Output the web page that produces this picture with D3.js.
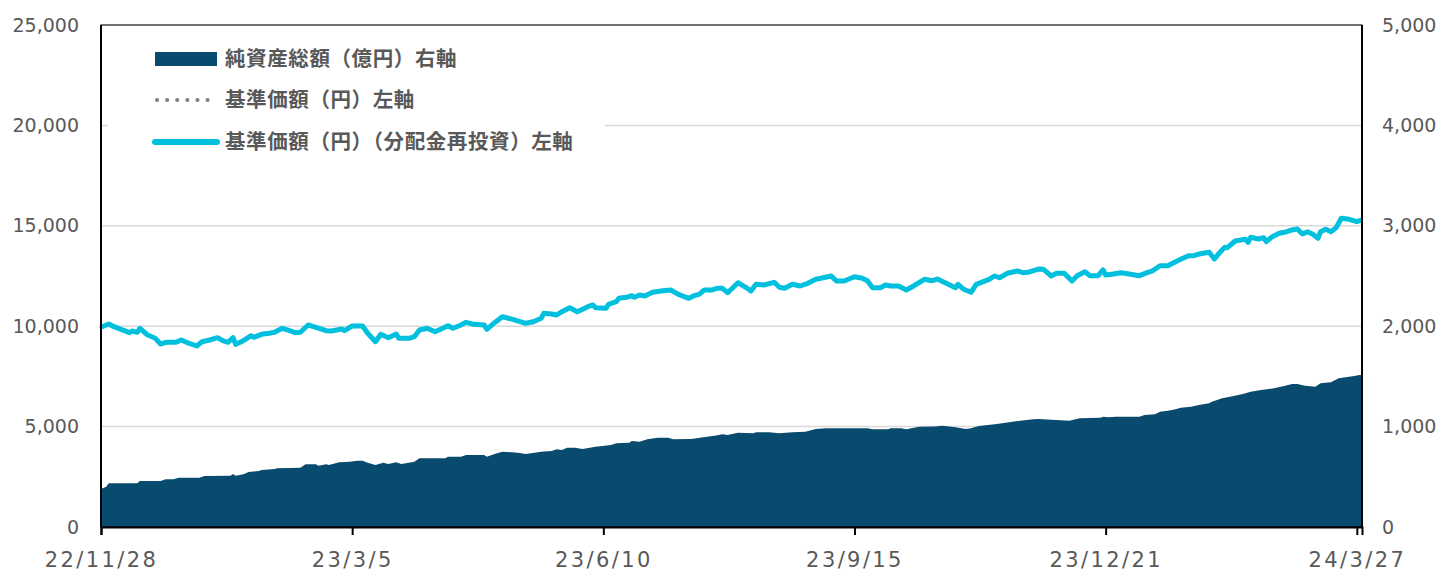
<!DOCTYPE html>
<html lang="ja">
<head>
<meta charset="UTF-8">
<title>純資産総額と基準価額の推移</title>
<script src="https://d3js.org/d3.v7.min.js"></script>
<style>
  body { margin: 0; background: #fff; }
  .tick-label { font-family: "DejaVu Sans", Verdana, sans-serif; font-size: 19px; fill: #595959; }
  .x-label { font-size: 21px; letter-spacing: 2.4px; }
  .legend-label { font-family: "Noto Sans CJK JP", sans-serif; font-size: 20.5px; letter-spacing: 0.6px; font-weight: bold; fill: #595959; }
</style>
</head>
<body>
<div id="chart"></div>
<script>
// x axis tick labels
const xTicks = ["22/11/28", "23/3/5", "23/6/10", "23/9/15", "23/12/21", "24/3/27"];
const leftTicks = [0, 5000, 10000, 15000, 20000, 25000];
const rightTicks = [0, 1000, 2000, 3000, 4000, 5000];

// 基準価額（円）（分配金再投資）
const navDates = [
  "2022-11-28","2022-12-01","2022-12-03","2022-12-09","2022-12-10","2022-12-12","2022-12-13","2022-12-16","2022-12-19","2022-12-21",
  "2022-12-23","2022-12-27","2022-12-29","2022-12-31","2023-01-04","2023-01-06","2023-01-09","2023-01-12","2023-01-14","2023-01-16",
  "2023-01-18","2023-01-19","2023-01-22","2023-01-25","2023-01-26","2023-01-29","2023-02-01","2023-02-03","2023-02-06","2023-02-08",
  "2023-02-11","2023-02-13","2023-02-16","2023-02-19","2023-02-23","2023-02-25","2023-03-01","2023-03-02","2023-03-05","2023-03-09",
  "2023-03-11","2023-03-14","2023-03-16","2023-03-19","2023-03-22","2023-03-23","2023-03-27","2023-03-29","2023-03-31","2023-04-03",
  "2023-04-06","2023-04-09","2023-04-11","2023-04-13","2023-04-16","2023-04-18","2023-04-21","2023-04-25","2023-04-26","2023-04-29",
  "2023-05-02","2023-05-06","2023-05-11","2023-05-14","2023-05-17","2023-05-18","2023-05-21","2023-05-23","2023-05-25","2023-05-28",
  "2023-05-31","2023-06-04","2023-06-06","2023-06-07","2023-06-11","2023-06-12","2023-06-15","2023-06-16","2023-06-19","2023-06-21",
  "2023-06-22","2023-06-24","2023-06-26","2023-06-29","2023-07-03","2023-07-06","2023-07-09","2023-07-13","2023-07-15","2023-07-17",
  "2023-07-19","2023-07-22","2023-07-24","2023-07-26","2023-07-28","2023-08-01","2023-08-04","2023-08-06","2023-08-08","2023-08-11",
  "2023-08-15","2023-08-17","2023-08-19","2023-08-22","2023-08-25","2023-08-28","2023-08-31","2023-09-02","2023-09-06","2023-09-08",
  "2023-09-11","2023-09-15","2023-09-18","2023-09-20","2023-09-22","2023-09-25","2023-09-27","2023-09-29","2023-10-02","2023-10-05",
  "2023-10-08","2023-10-12","2023-10-15","2023-10-17","2023-10-20","2023-10-24","2023-10-25","2023-10-27","2023-10-30","2023-11-01",
  "2023-11-06","2023-11-08","2023-11-10","2023-11-13","2023-11-17","2023-11-19","2023-11-21","2023-11-25","2023-11-27","2023-11-30",
  "2023-12-02","2023-12-05","2023-12-08","2023-12-10","2023-12-13","2023-12-15","2023-12-18","2023-12-20","2023-12-21","2023-12-24",
  "2023-12-27","2023-12-30","2024-01-03","2024-01-06","2024-01-08","2024-01-11","2024-01-14","2024-01-17","2024-01-19","2024-01-22",
  "2024-01-24","2024-01-26","2024-01-30","2024-02-01","2024-02-03","2024-02-05","2024-02-06","2024-02-09","2024-02-13","2024-02-14",
  "2024-02-15","2024-02-18","2024-02-20","2024-02-21","2024-02-23","2024-02-26","2024-02-29","2024-03-02","2024-03-04","2024-03-06",
  "2024-03-08","2024-03-10","2024-03-12","2024-03-13","2024-03-15","2024-03-17","2024-03-19","2024-03-21","2024-03-24","2024-03-27",
  "2024-03-29"
];
const navValues = [
  9950,10110,9975,9676,9761,9696,9895,9562,9397,9113,
  9198,9198,9313,9198,9014,9228,9313,9427,9278,9198,
  9427,9098,9278,9527,9447,9596,9646,9696,9895,9811,
  9676,9696,10060,9945,9776,9761,9860,9776,10010,10010,
  9646,9228,9596,9427,9611,9397,9397,9477,9811,9895,
  9726,9895,10025,9895,10060,10194,10094,10060,9845,10174,
  10473,10343,10144,10224,10393,10642,10607,10558,10722,10921,
  10722,10971,11056,10921,10891,11090,11220,11389,11439,11519,
  11439,11554,11504,11688,11768,11803,11588,11389,11519,11588,
  11803,11803,11887,11887,11668,12166,11937,11753,12086,12052,
  12186,11937,11887,12086,12002,12136,12335,12385,12500,12251,
  12251,12465,12385,12266,11917,11917,12052,12002,12002,11803,
  12017,12335,12266,12350,12166,11917,12086,11852,11688,12086,
  12335,12500,12415,12634,12749,12664,12684,12848,12833,12500,
  12634,12634,12251,12515,12714,12515,12515,12799,12550,12599,
  12664,12599,12515,12664,12749,13013,13013,13212,13331,13511,
  13511,13595,13680,13346,13660,13929,13909,14243,14327,14178,
  14427,14342,14407,14208,14427,14626,14706,14791,14840,14591,
  14706,14576,14377,14706,14825,14706,14905,15373,15323,15204,
  15289
];
// 基準価額（円）: no distributions paid, so it sits under the reinvested line
const basePriceValues = navValues.slice();

// 純資産総額（億円）
const aumDates = [
  "2022-11-28","2022-11-30","2022-12-01","2022-12-12","2022-12-13","2022-12-21","2022-12-23","2022-12-26","2022-12-28","2023-01-05",
  "2023-01-07","2023-01-17","2023-01-18","2023-01-19","2023-01-22","2023-01-24","2023-01-28","2023-01-29","2023-02-03","2023-02-04",
  "2023-02-13","2023-02-15","2023-02-19","2023-02-20","2023-02-23","2023-02-24","2023-02-28","2023-03-04","2023-03-07","2023-03-09",
  "2023-03-11","2023-03-14","2023-03-17","2023-03-19","2023-03-22","2023-03-24","2023-03-29","2023-03-31","2023-04-10","2023-04-11",
  "2023-04-16","2023-04-18","2023-04-25","2023-04-26","2023-04-29","2023-05-02","2023-05-08","2023-05-11","2023-05-17","2023-05-21",
  "2023-05-23","2023-05-25","2023-05-27","2023-05-30","2023-06-02","2023-06-07","2023-06-13","2023-06-15","2023-06-20","2023-06-21",
  "2023-06-24","2023-06-27","2023-07-01","2023-07-05","2023-07-07","2023-07-14","2023-07-20","2023-07-23","2023-07-26","2023-07-28",
  "2023-08-01","2023-08-07","2023-08-08","2023-08-13","2023-08-17","2023-08-22","2023-08-27","2023-08-31","2023-09-04","2023-09-20",
  "2023-09-22","2023-09-28","2023-09-29","2023-10-03","2023-10-05","2023-10-10","2023-10-16","2023-10-19","2023-10-24","2023-10-28",
  "2023-10-30","2023-11-02","2023-11-09","2023-11-11","2023-11-15","2023-11-23","2023-11-25","2023-12-07","2023-12-11","2023-12-19",
  "2023-12-20","2023-12-22","2023-12-25","2024-01-03","2024-01-05","2024-01-09","2024-01-11","2024-01-14","2024-01-17","2024-01-19",
  "2024-01-23","2024-01-26","2024-01-30","2024-01-31","2024-02-04","2024-02-07","2024-02-12","2024-02-15","2024-02-19","2024-02-22",
  "2024-02-24","2024-02-28","2024-03-02","2024-03-04","2024-03-07","2024-03-11","2024-03-13","2024-03-17","2024-03-20","2024-03-24",
  "2024-03-26","2024-03-28","2024-03-29"
];
const aumValues = [
  378,401,435,435,458,458,475,475,491,491,
  508,511,528,511,525,548,558,568,578,585,
  591,624,624,611,624,618,644,650,660,660,
  640,618,640,627,644,627,650,684,684,700,
  700,717,717,700,727,750,740,727,750,757,
  774,767,790,790,777,800,817,834,840,857,
  850,873,889,889,873,876,899,909,923,916,
  939,933,943,943,933,943,949,976,983,983,
  973,973,983,983,973,999,1002,1009,993,976,
  983,1006,1026,1033,1049,1073,1076,1059,1083,1089,
  1099,1093,1099,1099,1116,1122,1149,1158,1172,1188,
  1198,1215,1232,1248,1282,1298,1325,1348,1365,1374,
  1381,1404,1424,1424,1407,1397,1431,1441,1481,1497,
  1504,1514,1514
];

const legendItems = ["純資産総額（億円）右軸", "基準価額（円）左軸", "基準価額（円）（分配金再投資）左軸"];

const W = 1440, H = 571;
const margin = {top: 25, right: 78, bottom: 44, left: 101};
const width = W - margin.left - margin.right,
      height = H - margin.top - margin.bottom;

const parseISO = d3.timeParse("%Y-%m-%d");
const parseTick = d3.timeParse("%y/%m/%d");

const nav = navDates.map((d, i) => ({date: parseISO(d), v: navValues[i], b: basePriceValues[i]}));
const aum = aumDates.map((d, i) => ({date: parseISO(d), v: aumValues[i]}));

const svg = d3.select("#chart").append("svg")
  .attr("width", W).attr("height", H)
  .append("g")
  .attr("transform", `translate(${margin.left},${margin.top})`);

const x = d3.scaleTime()
  .domain([parseISO("2022-11-28"), parseISO("2024-03-29")])
  .range([0, width]);
const yL = d3.scaleLinear().domain([0, 25000]).range([height, 0]);
const yR = d3.scaleLinear().domain([0, 5000]).range([height, 0]);

// gridlines
svg.append("g")
  .selectAll("line")
  .data(leftTicks.slice(1))
  .join("line")
    .attr("x1", 0).attr("x2", width)
    .attr("y1", d => yL(d)).attr("y2", d => yL(d))
    .attr("stroke", "#d9d9d9").attr("stroke-width", 1.5);

// area: net assets (right axis)
svg.append("path")
  .datum(aum)
  .attr("fill", "#084b6e")
  .attr("d", d3.area().x(d => x(d.date)).y0(height).y1(d => yR(d.v)));

// dotted: base price
svg.append("path")
  .datum(nav)
  .attr("fill", "none")
  .attr("stroke", "#7f7f7f")
  .attr("stroke-width", 3)
  .attr("stroke-dasharray", "0.1 7")
  .attr("stroke-linecap", "round")
  .attr("d", d3.line().x(d => x(d.date)).y(d => yL(d.b)));

// base price (reinvested)
svg.append("path")
  .datum(nav)
  .attr("fill", "none")
  .attr("stroke", "#00c0de")
  .attr("stroke-width", 5)
  .attr("stroke-linejoin", "round")
  .attr("d", d3.line().x(d => x(d.date)).y(d => yL(d.v)));

// frame
svg.append("rect")
  .attr("x", 0).attr("y", 0).attr("width", width).attr("height", height)
  .attr("fill", "none").attr("stroke", "#000").attr("stroke-width", 1);
svg.append("line").attr("x1", 0).attr("x2", 0).attr("y1", 0).attr("y2", height)
  .attr("stroke", "#000").attr("stroke-width", 2);
svg.append("line").attr("x1", width).attr("x2", width).attr("y1", 0).attr("y2", height)
  .attr("stroke", "#000").attr("stroke-width", 2);

// x axis
const xAxis = svg.append("g")
  .attr("transform", `translate(0,${height})`)
  .call(d3.axisBottom(x).tickValues(xTicks.map(parseTick)).tickSize(8).tickPadding(17)
    .tickFormat(d3.timeFormat("%y/%-m/%-d")));
xAxis.select(".domain").attr("stroke", "#000").attr("stroke-width", 2);
xAxis.selectAll(".tick line").attr("stroke", "#000").attr("stroke-width", 2);
xAxis.selectAll(".tick text").attr("class", "tick-label x-label");
xAxis.attr("font-size", null).attr("font-family", null);

// left axis labels
const yAxisL = svg.append("g")
  .call(d3.axisLeft(yL).tickValues(leftTicks).tickSize(0).tickPadding(22).tickFormat(d3.format(",")));
yAxisL.select(".domain").remove();
yAxisL.attr("font-size", null).attr("font-family", null);
yAxisL.selectAll(".tick text").attr("class", "tick-label");

// right axis labels
const yAxisR = svg.append("g")
  .attr("transform", `translate(${width},0)`)
  .call(d3.axisRight(yR).tickValues(rightTicks).tickSize(0).tickPadding(20).tickFormat(d3.format(",")));
yAxisR.select(".domain").remove();
yAxisR.attr("font-size", null).attr("font-family", null);
yAxisR.selectAll(".tick text").attr("class", "tick-label");

// legend
const legend = svg.append("g").attr("transform", "translate(7,4)");
legend.append("rect").attr("x", 0).attr("y", 0).attr("width", 497).attr("height", 135).attr("fill", "#fff");

const rowY = [30, 71, 113];
const lx = 47;
legend.append("rect").attr("x", lx).attr("y", rowY[0] - 7).attr("width", 62).attr("height", 14).attr("fill", "#084b6e");
legend.append("line").attr("x1", lx + 2).attr("x2", lx + 62).attr("y1", rowY[1]).attr("y2", rowY[1])
  .attr("stroke", "#7f7f7f").attr("stroke-width", 4).attr("stroke-linecap", "round").attr("stroke-dasharray", "0.1 10");
legend.append("line").attr("x1", lx).attr("x2", lx + 62).attr("y1", rowY[2]).attr("y2", rowY[2])
  .attr("stroke", "#00c0de").attr("stroke-width", 6).attr("stroke-linecap", "round");

legend.selectAll("text.legend-label")
  .data(legendItems)
  .join("text")
    .attr("class", "legend-label")
    .attr("x", lx + 70)
    .attr("y", (d, i) => rowY[i])
    .attr("dy", "0.35em")
    .text(d => d);
</script>
</body>
</html>
